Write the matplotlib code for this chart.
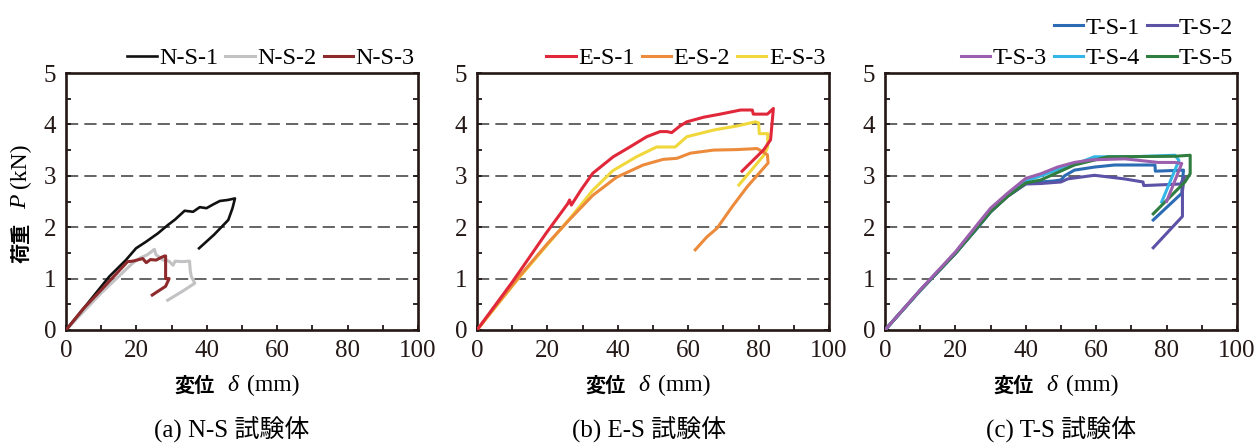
import matplotlib
matplotlib.use('Agg')
import matplotlib.pyplot as plt
from matplotlib.lines import Line2D
from matplotlib.ticker import MultipleLocator

plt.rcParams['font.family'] = ['Liberation Serif', 'Noto Sans CJK JP']
plt.rcParams['mathtext.fontset'] = 'custom'
plt.rcParams['mathtext.it'] = 'Liberation Serif:italic'

# ---- data (displacement mm, load kN) ----
ns1_x = [0, 5, 12.3, 17, 19.9, 22.8, 26.1, 28.9, 31, 33.7, 36.1, 38, 39.9, 42, 43.7, 46, 48, 47.6, 47.3, 46.1, 42, 37.8]
ns1_y = [0, 0.42, 1.04, 1.36, 1.59, 1.72, 1.88, 2.04, 2.15, 2.32, 2.30, 2.39, 2.37, 2.45, 2.51, 2.53, 2.56, 2.45, 2.37, 2.14, 1.85, 1.59]
ns2_x = [0, 10, 18.9, 21, 23, 24.2, 25.1, 25.6, 26.5, 27.5, 28.5, 29.4, 30.4, 31, 33, 35.1, 35.3, 35.6, 36.6, 33, 28.9]
ns2_y = [0, 0.72, 1.30, 1.40, 1.46, 1.52, 1.57, 1.46, 1.42, 1.36, 1.36, 1.33, 1.26, 1.34, 1.33, 1.34, 1.15, 1.04, 0.91, 0.75, 0.58]
ns3_x = [0, 5, 10, 17.5, 19, 21.8, 22.8, 24, 25.6, 27, 28, 28.3, 28.3, 29.3, 28.3, 26.5, 24.5]
ns3_y = [0, 0.42, 0.78, 1.33, 1.34, 1.39, 1.31, 1.37, 1.36, 1.41, 1.44, 1.44, 1.0, 1.0, 0.85, 0.77, 0.68]

es1_x = [0, 10.1, 19.6, 25.8, 26.3, 26.8, 29.5, 32.9, 38.7, 43.4, 48.2, 52, 54, 55.3, 57.7, 59.6, 64.4, 69.1, 74.9, 78.2, 78.5, 82.5, 84.2, 83.4, 81.5, 75.3]
es1_y = [0, 0.94, 1.88, 2.46, 2.53, 2.43, 2.72, 3.05, 3.37, 3.56, 3.76, 3.86, 3.86, 3.84, 3.97, 4.05, 4.14, 4.20, 4.28, 4.28, 4.20, 4.20, 4.31, 3.70, 3.51, 3.09]
es2_x = [0, 12, 20, 26.3, 32.9, 39.6, 47.2, 52.9, 56.8, 60.6, 67.2, 73.9, 79.6, 82.5, 82.7, 76.8, 72.5, 68.2, 65.3, 62]
es2_y = [0, 1.04, 1.68, 2.15, 2.62, 2.97, 3.21, 3.32, 3.34, 3.44, 3.50, 3.51, 3.53, 3.41, 3.25, 2.79, 2.40, 1.98, 1.81, 1.56]
es3_x = [0, 12, 20, 27, 32.9, 38.6, 45.3, 51, 56.3, 59.6, 67.2, 73.9, 79.1, 80, 80.2, 82.6, 82.6, 81.5, 74.4]
es3_y = [0, 1.02, 1.66, 2.22, 2.72, 3.10, 3.37, 3.56, 3.56, 3.76, 3.89, 3.97, 4.05, 4.03, 3.82, 3.82, 3.56, 3.40, 2.82]

ts1_x = [0, 10, 20, 26.2, 30, 34.8, 40, 44.3, 48, 50, 51, 53.8, 59.5, 65.2, 76.7, 76.8, 84.8, 84.5, 84.3, 76.2]
ts1_y = [0, 0.77, 1.49, 1.98, 2.30, 2.60, 2.85, 2.88, 2.90, 2.92, 3.0, 3.11, 3.17, 3.21, 3.21, 3.09, 3.11, 2.9, 2.66, 2.14]
ts2_x = [0, 10, 20, 26.2, 30, 34.8, 40, 44.3, 50, 51.9, 59.5, 68, 73.3, 73.5, 84, 85, 84.5, 84.5, 76.2]
ts2_y = [0, 0.77, 1.49, 1.99, 2.30, 2.60, 2.84, 2.85, 2.88, 2.94, 3.01, 2.94, 2.88, 2.81, 2.84, 2.98, 2.7, 2.21, 1.60]
ts3_x = [0, 10, 20, 26.2, 30, 34.8, 40, 44.3, 49, 53.8, 58.6, 68.1, 77.6, 82.4, 84.3, 80]
ts3_y = [0, 0.78, 1.52, 2.05, 2.37, 2.66, 2.95, 3.04, 3.17, 3.26, 3.31, 3.33, 3.26, 3.26, 3.24, 2.50]
ts4_x = [0, 10, 20, 26.2, 30, 34.8, 40, 44.3, 49, 53.8, 59.5, 70, 82.4, 83.5, 78.6]
ts4_y = [0, 0.77, 1.50, 2.0, 2.32, 2.62, 2.90, 3.0, 3.12, 3.22, 3.37, 3.37, 3.40, 3.30, 2.49]
ts5_x = [0, 10, 20, 26.2, 30, 34.8, 40, 44.3, 53.8, 63.3, 82.4, 86.7, 86.7, 85.2, 76.2]
ts5_y = [0, 0.77, 1.49, 1.99, 2.30, 2.60, 2.86, 2.92, 3.21, 3.37, 3.38, 3.40, 3.04, 2.88, 2.26]

dark = '#231815'
W, H = 1256, 445
fig = plt.figure(figsize=(W / 100, H / 100), dpi=100)


def make_axes(left_px):
    ax = fig.add_axes([left_px / W, 115 / H, 352 / W, 257 / H])
    ax.set_xlim(0, 100)
    ax.set_ylim(0, 5)
    ax.xaxis.set_major_locator(MultipleLocator(20))
    ax.xaxis.set_minor_locator(MultipleLocator(10))
    ax.yaxis.set_major_locator(MultipleLocator(1))
    ax.yaxis.set_minor_locator(MultipleLocator(0.5))
    ax.tick_params(which='both', direction='in', colors=dark, width=1.3,
                   length=3.5, right=True, labelsize=18)
    ax.tick_params(axis='y', pad=7)
    ax.tick_params(axis='x', pad=7)
    for s in ax.spines.values():
        s.set_linewidth(1.9)
        s.set_color(dark)
    for v in [1, 2, 3, 4]:
        ax.axhline(v, color='#3a3a3a', lw=1.1, ls=(0, (8, 4)), zorder=1)
    # x label pieces
    ty = -0.215
    ax.text(0.366, ty, '変位', transform=ax.transAxes, ha='center', va='center',
            fontsize=14.5, fontweight='bold', family='Noto Sans CJK JP')
    ax.text(0.477, ty, r'$\delta$', transform=ax.transAxes, ha='center', va='center',
            fontsize=17)
    ax.text(0.59, ty, '(mm)', transform=ax.transAxes, ha='center', va='center',
            fontsize=17)
    return ax


ax1 = make_axes(66)
ax2 = make_axes(477)
ax3 = make_axes(885)

lw = 2.2
ax1.plot(ns1_x, ns1_y, color='#111111', lw=1.9, label='N-S-1', zorder=3)
ax1.plot(ns2_x, ns2_y, color='#c2c2c4', lw=lw, label='N-S-2', zorder=2)
ax1.plot(ns3_x, ns3_y, color='#8e2a2c', lw=lw, label='N-S-3', zorder=4)

ax2.plot(es1_x, es1_y, color='#e0283a', lw=lw, label='E-S-1', zorder=4)
ax2.plot(es2_x, es2_y, color='#ec8b3c', lw=lw, label='E-S-2', zorder=3)
ax2.plot(es3_x, es3_y, color='#f0d83c', lw=lw, label='E-S-3', zorder=2)

l1, = ax3.plot(ts1_x, ts1_y, color='#2b6cb4', lw=lw, label='T-S-1', zorder=3)
l2, = ax3.plot(ts2_x, ts2_y, color='#5c52a6', lw=lw, label='T-S-2', zorder=3)
l4, = ax3.plot(ts4_x, ts4_y, color='#33b6e6', lw=lw, label='T-S-4', zorder=3)
l5, = ax3.plot(ts5_x, ts5_y, color='#2f7d3f', lw=lw, label='T-S-5', zorder=3)
l3, = ax3.plot(ts3_x, ts3_y, color='#9b5fae', lw=lw, label='T-S-3', zorder=4)

leg_kw = dict(loc='lower right', bbox_to_anchor=(1.0, 1.0), ncol=3, frameon=False,
              fontsize=17.5, handlelength=1.2, handletextpad=0.1, columnspacing=0.3,
              borderaxespad=0.0, borderpad=0.15, labelspacing=0.1)
ax1.legend(**leg_kw)
ax2.legend(**leg_kw)
blank = Line2D([], [], color='none')
leg_kw['labelspacing'] = 0.35
ax3.legend([blank, l3, l1, l4, l2, l5], ['', 'T-S-3', 'T-S-1', 'T-S-4', 'T-S-2', 'T-S-5'], **leg_kw)

# y label
for txt, yy, kw in [('荷重', 0.34, dict(fontsize=14.5, fontweight='bold', family='Noto Sans CJK JP')),
                    (r'$P$', 0.503, dict(fontsize=17)),
                    ('(kN)', 0.64, dict(fontsize=17))]:
    ax1.text(-0.129, yy, txt, transform=ax1.transAxes, rotation=90,
             ha='center', va='center', **kw)

# captions
for ax, cap, cx in [(ax1, '(a) N-S 試験体', 0.47), (ax2, '(b) E-S 試験体', 0.49), (ax3, '(c) T-S 試験体', 0.5)]:
    ax.text(cx, -0.39, cap, transform=ax.transAxes, ha='center', va='center', fontsize=18)

fig.savefig('out.png', dpi=100)
